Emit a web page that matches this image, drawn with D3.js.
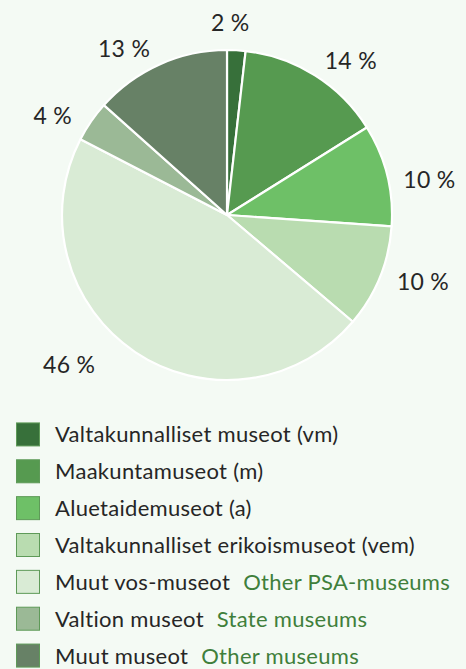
<!DOCTYPE html>
<html><head><meta charset="utf-8">
<script src="https://cdn.jsdelivr.net/npm/d3@7"></script>
<style>
html,body{margin:0;padding:0;background:#f4faf4;}
svg{display:block;}
</style></head>
<body>
<script>
// ---- data ----
const categories = [
  "Valtakunnalliset museot (vm)",
  "Maakuntamuseot (m)",
  "Aluetaidemuseot (a)",
  "Valtakunnalliset erikoismuseot (vem)",
  "Muut vos-museot",
  "Valtion museot",
  "Muut museot"
];
const englishNames = ["", "", "", "", "Other PSA-museums", "State museums", "Other museums"];
const shares = [1.8, 14.3, 10.0, 10.1, 46.4, 4.0, 13.4];
const colors = ["#37703a", "#569a50", "#6ec067", "#b9dcb0", "#d9ebd5", "#9bb996", "#678166"];
// label placement nudges to mimic the original layout (degrees, px)
const labelNudge = [-2.3, 4.7, 3.2, -2.5, 11.2, -4, -6];
const labelPush = [0, 1, 1, 3, 18, 4, 0];

const W = 466, H = 669;
const cx = 227, cy = 215, R = 165;

const svg = d3.select("body").append("svg").attr("width", W).attr("height", H);
svg.append("rect").attr("width", W).attr("height", H).attr("fill", "#f4faf4");

const data = categories.map((c, i) => ({name: c, en: englishNames[i], value: shares[i], color: colors[i], i}));
const pie = d3.pie().value(d => d.value).sort(null);
const arc = d3.arc().innerRadius(0).outerRadius(R);
const arcs = pie(data);

const g = svg.append("g").attr("transform", `translate(${cx},${cy})`);
g.selectAll("path").data(arcs).join("path")
  .attr("d", arc)
  .attr("fill", d => d.data.color)
  .attr("stroke", "#ffffff")
  .attr("stroke-width", 2.2)
  .attr("stroke-linejoin", "round");

const font = "Lato, 'Open Sans', sans-serif";
const R0 = R + 14;
const labels = g.selectAll("text.lbl").data(arcs).join("text")
  .attr("class", "lbl")
  .attr("font-family", font)
  .attr("font-weight", 400)
  .attr("font-size", 23)
  .attr("letter-spacing", 0.3)
  .attr("fill", "#262626")
  .attr("text-anchor", "middle")
  .attr("dominant-baseline", "central")
  .text(d => Math.round(d.data.value) + " %");
labels.each(function(d) {
  const bb = this.getBBox();
  const a = (d.startAngle + d.endAngle) / 2 + labelNudge[d.data.i] * Math.PI / 180;
  const s = Math.sin(a), c = -Math.cos(a);
  const r = R0 + labelPush[d.data.i];
  const x = r * s + bb.width / 2 * s;
  const y = r * c + bb.height / 2 * c;
  d3.select(this).attr("x", x).attr("y", y);
});

// legend
const legY = d3.scaleBand().domain(d3.range(categories.length)).range([416, 674]).paddingInner(0);
const leg = svg.append("g");
const rows = leg.selectAll("g").data(data).join("g")
  .attr("transform", d => `translate(0,${legY(d.i) + legY.bandwidth() / 2})`);
rows.append("rect")
  .attr("x", 16.5).attr("y", -11.5).attr("width", 23).attr("height", 23)
  .attr("fill", d => d.color)
  .attr("stroke", "#5e9a58").attr("stroke-width", 1);
const t = rows.append("text")
  .attr("x", 55).attr("y", -1)
  .attr("dominant-baseline", "central")
  .attr("letter-spacing", 0.3)
  .attr("font-weight", 400)
  .attr("font-family", font).attr("font-size", 22);
t.append("tspan").attr("fill", "#262626").text(d => d.name);
t.append("tspan").attr("fill", "#3f7f3b").attr("dx", 13).text(d => d.en);
</script>
</body></html>
